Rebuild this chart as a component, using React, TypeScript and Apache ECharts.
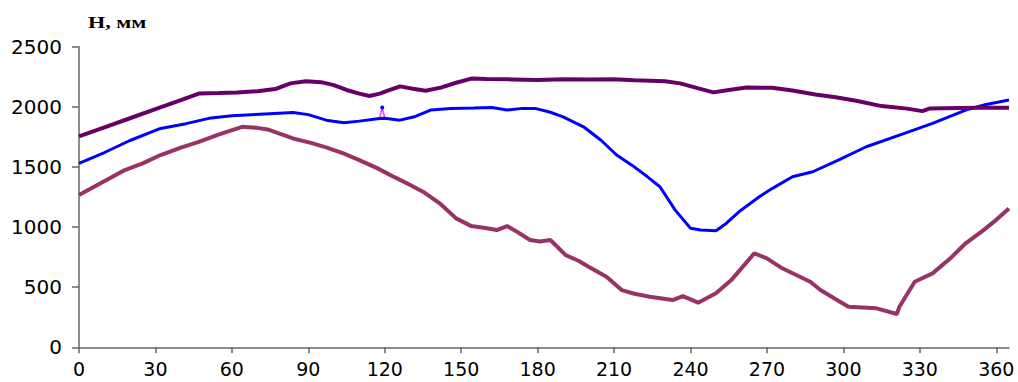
import React, { useEffect, useRef } from "react";
import * as echarts from "echarts";

// Day of year and depth H (mm)
const topDays = [0, 10, 20, 30, 40, 47, 55, 62, 70, 77, 83, 89, 95, 100, 105, 110, 114, 118, 122, 126, 131, 136, 142, 148, 154, 160, 170, 180, 190, 200, 210, 218, 224, 230, 236, 242, 249, 255, 262, 272, 280, 289, 297, 305, 315, 325, 331, 334, 345, 355, 365];
const topValues = [1755, 1830, 1905, 1980, 2055, 2110, 2115, 2120, 2130, 2148, 2195, 2213, 2205, 2180, 2140, 2110, 2090, 2110, 2140, 2170, 2150, 2133, 2160, 2200, 2235, 2232, 2228, 2224, 2230, 2228, 2230, 2220, 2216, 2212, 2195, 2160, 2120, 2140, 2160, 2158, 2135, 2103, 2080, 2050, 2006, 1985, 1964, 1987, 1990, 1993, 1992];

const blueDays = [0, 10, 20, 32, 42, 51, 60, 71, 84, 90, 97, 104, 110, 118, 120, 126, 132, 138, 146, 155, 162, 168, 174, 179, 185, 190, 198, 205, 211, 217, 223, 228, 234, 240, 244, 250, 254, 259, 267, 272, 280, 288, 298, 309, 322, 335, 348, 356, 365];
const blueValues = [1530, 1620, 1720, 1820, 1860, 1904, 1925, 1939, 1953, 1935, 1889, 1867, 1881, 1903, 1905, 1889, 1920, 1973, 1987, 1990, 1995, 1973, 1987, 1987, 1955, 1917, 1834, 1720, 1599, 1515, 1420, 1335, 1141, 990, 975, 969, 1030, 1127, 1252, 1320, 1418, 1460, 1557, 1668, 1765, 1862, 1973, 2020, 2056];
const spikeDay = 119;
const spikeValue = 1995;

const lowDays = [0, 9, 18, 25, 32, 40, 47, 55, 64, 70, 74, 84, 91, 97, 104, 110, 117, 124, 130, 135, 142, 148, 154, 160, 164, 168, 172, 177, 181, 185, 188, 191, 196, 200, 207, 213, 218, 224, 233, 237, 243, 250, 256, 265, 270, 276, 287, 291, 297, 302, 313, 321, 322, 328, 335, 342, 348, 355, 360, 365];
const lowValues = [1266, 1370, 1474, 1530, 1599, 1660, 1709, 1770, 1834, 1825, 1812, 1737, 1700, 1663, 1610, 1557, 1490, 1413, 1350, 1294, 1190, 1072, 1008, 990, 975, 1008, 960, 892, 880, 892, 830, 767, 720, 670, 587, 476, 445, 421, 393, 426, 371, 449, 559, 781, 740, 657, 545, 476, 400, 337, 324, 277, 337, 545, 615, 740, 865, 975, 1060, 1155];

const xTicks = [0, 30, 60, 90, 120, 150, 180, 210, 240, 270, 300, 330, 360];
const axisTitle = "H, мм";

const zip = (xs: number[], ys: number[]) => xs.map((x, i) => [x, ys[i]]);

export default function App() {
  const ref = useRef<HTMLDivElement>(null);
  useEffect(() => {
    if (!ref.current) return;
    const chart = echarts.init(ref.current, null, { renderer: "svg" });
    const blue = zip(blueDays, blueValues);
    const spikeIdx = blueDays.findIndex((d) => d > spikeDay);
    const blueWithSpike: any[] = [...blue];
    blueWithSpike.splice(spikeIdx, 0, {
      value: [spikeDay, spikeValue],
      symbol: "circle",
      symbolSize: 4,
      itemStyle: { color: "#0000ff" },
    });
    chart.setOption({
      animation: false,
      grid: { left: 79, right: 9, top: 46.7, bottom: 34.7 },
      graphic: [
        {
          type: "text",
          x: 88,
          y: 13,
          scaleX: 1.3,
          style: {
            text: axisTitle,
            font: "bold 17px 'Liberation Serif'",
            fill: "#000",
            textAlign: "left",
            textVerticalAlign: "top",
          },
        },
      ],
      xAxis: {
        type: "value",
        min: 0,
        max: 365,
        interval: 30,
        splitLine: { show: false },
        axisLine: { lineStyle: { color: "#666", width: 1.5 } },
        axisTick: { length: 6, customValues: xTicks, lineStyle: { color: "#666", width: 1.5 } },
        axisLabel: {
          customValues: xTicks,
          color: "#000",
          fontFamily: "DejaVu Sans",
          fontSize: 19,
          margin: 12,
          formatter: (v: number) => String(v),
        },
      },
      yAxis: {
        type: "value",
        min: 0,
        max: 2500,
        interval: 500,
        splitLine: { show: false },
        axisLine: { show: true, lineStyle: { color: "#666", width: 1.5 } },
        axisTick: { show: true, length: 7, lineStyle: { color: "#666", width: 1.5 } },
        axisLabel: {
          color: "#000",
          fontFamily: "DejaVu Sans",
          fontSize: 20,
          margin: 17,
          formatter: (v: number) => String(v),
        },
      },
      series: [
        {
          type: "line",
          data: zip(topDays, topValues),
          symbol: "none",
          lineStyle: { color: "#660066", width: 4 },
        },
        {
          type: "line",
          data: blueWithSpike,
          symbol: "none",
          showSymbol: true,
          lineStyle: { color: "#ff33ff", width: 1.5 },
          z: 1,
        },
        {
          type: "line",
          data: blue,
          symbol: "none",
          lineStyle: { color: "#0000ff", width: 3 },
          z: 2,
        },
        {
          type: "line",
          data: zip(lowDays, lowValues),
          symbol: "none",
          lineStyle: { color: "#993366", width: 4 },
        },
      ],
    });
    return () => chart.dispose();
  }, []);
  return (
    <div
      ref={ref}
      style={{ position: "fixed", left: 0, top: 0, width: 1018, height: 382, background: "#fff" }}
    />
  );
}
